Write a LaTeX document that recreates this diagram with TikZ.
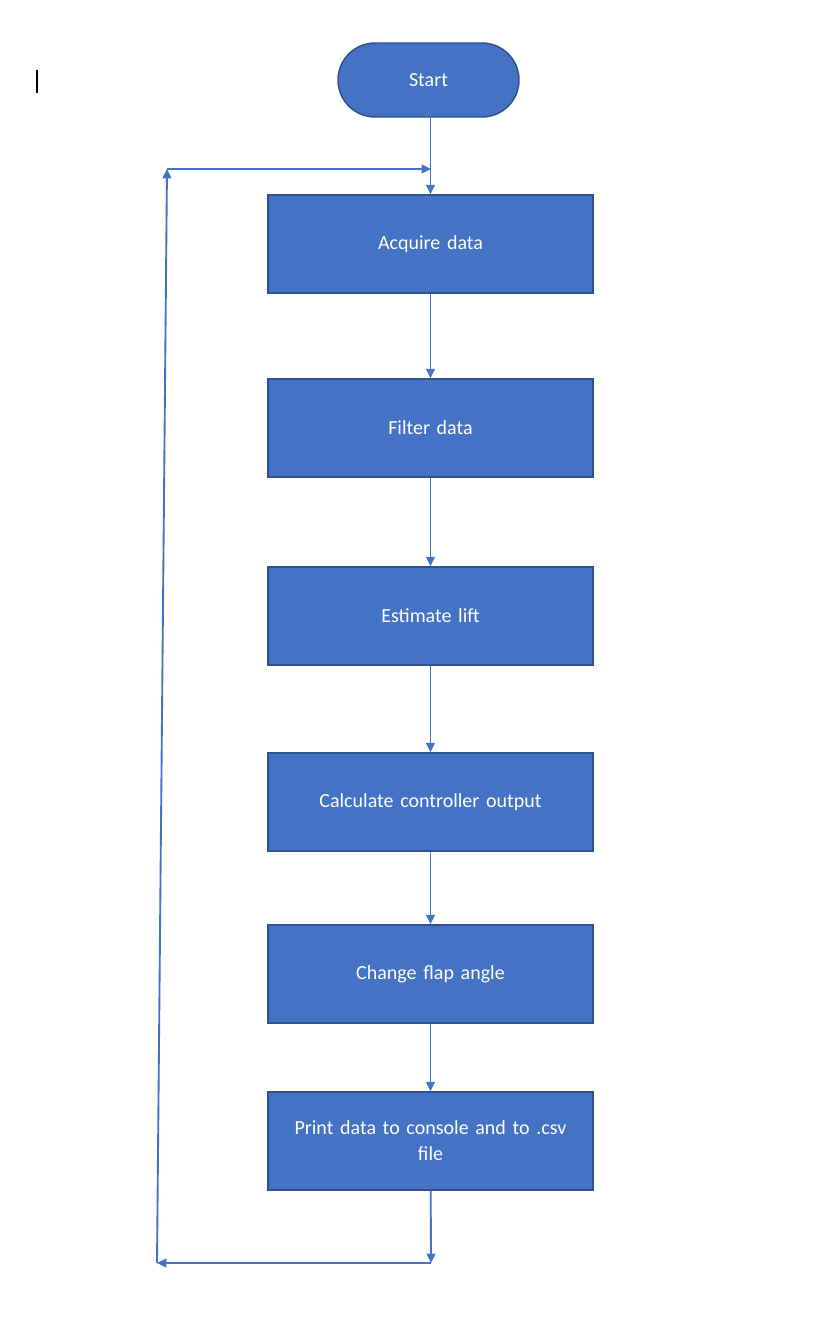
\documentclass[tikz,border=0pt]{standalone}
\usepackage{fontspec}
\setmainfont{Carlito}
\usetikzlibrary{arrows.meta}
\definecolor{boxfill}{HTML}{4472C4}
\definecolor{boxline}{HTML}{2F528F}
\definecolor{conn}{HTML}{4472C4}
\begin{document}
\begin{tikzpicture}[x=0.75pt,y=-0.75pt,
  stepbox/.style={draw=boxline,fill=boxfill,line width=1.1pt,minimum width=243.75pt,minimum height=73.5pt,text=white,inner sep=0pt,font=\fontsize{15}{19.5}\selectfont,align=center,text width=230pt},
  termbox/.style={draw=boxline,fill=boxfill,line width=1.1pt,minimum width=135.75pt,minimum height=55.5pt,rounded corners=27.75pt,text=white,inner sep=0pt,font=\fontsize{15}{19.5}\selectfont},
  conn/.style={draw=conn,line width=1.4pt},
  arr/.style={conn,-{Triangle[length=7pt,width=6.5pt]}}]
\useasboundingbox (0,0) rectangle (828,1342);
\draw[black,line width=1.4pt] (37,70) -- (37,93);
\node[termbox] (start) at (428.5,80) {Start};
\node[stepbox] (acq) at (430.5,244) {\raisebox{-2pt}{Acquire data}};
\node[stepbox] (filt) at (430.5,428) {Filter data};
\node[stepbox] (est) at (430.5,616) {Estimate lift};
\node[stepbox] (calc) at (430.5,802) {Calculate controller output};
\node[stepbox] (flap) at (430.5,974) {Change flap angle};
\node[stepbox] (print) at (430.5,1141) {Print data to console and to .csv\\file};
\coordinate (br) at (431,1263);
\coordinate (bl) at (157,1263);
\coordinate (tl) at (167,169);
\coordinate (tr) at (431,169);
\draw[arr] (start.south -| acq.north) -- (acq.north);
\draw[arr] (acq) -- (filt);
\draw[arr] (filt) -- (est);
\draw[arr] (est) -- (calc);
\draw[arr] (calc) -- (flap);
\draw[arr] (flap) -- (print);
\draw[arr] (print) -- (br);
\draw[arr] (br) -- (bl);
\draw[arr] (bl) -- (tl);
\draw[arr] (tl) -- (tr);
\end{tikzpicture}
\end{document}
